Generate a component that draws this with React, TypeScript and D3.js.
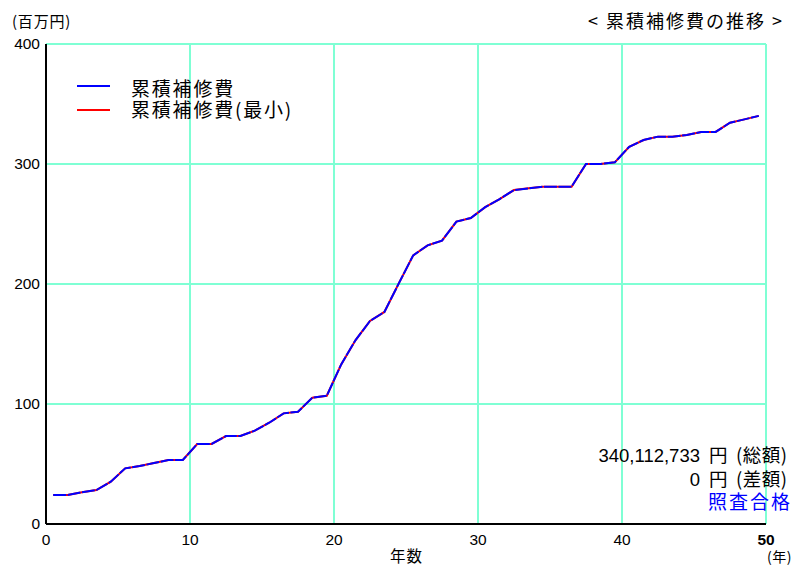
import React from "react";
import * as d3 from "d3";

const years: number[] = Array.from({ length: 50 }, (_, i) => i + 0.5);
const cumulativeRepair: number[] = [
  24.2, 24.2, 26.4, 28.3, 35.3, 46.4, 48.3, 50.8, 53.3, 53.3,
  66.7, 66.7, 73.3, 73.3, 77.8, 84.4, 92.2, 93.6, 105.3, 106.9,
  133, 153.3, 169.2, 176.7, 200.5, 223.9, 232.2, 236.1, 252, 255,
  264, 270.8, 278.3, 279.7, 281.1, 281.1, 281.1, 300, 300, 301.4,
  314.4, 320, 322.8, 322.8, 324.2, 326.7, 326.7, 334.4, 337.2, 340.1,
];
const cumulativeRepairMin: number[] = cumulativeRepair.slice();
const xTicks: number[] = [0, 10, 20, 30, 40, 50];
const yTicks: number[] = [0, 100, 200, 300, 400];
const legendLabels: string[] = ["累積補修費", "累積補修費(最小)"];
const totalAmount = "340,112,733";
const diffAmount = "0";
const summaryLabels: string[] = ["(総額)", "(差額)"];
const verdict = "照査合格";

const W = 795;
const H = 566;
const left = 46;
const right = 766;
const top = 44;
const bottom = 524;
const font = "'Noto Sans CJK JP', 'Liberation Sans', sans-serif";
const numFont = "'Liberation Sans', Arial, sans-serif";
const gridColor = "#7fffd4";

export default function App() {
  const x = d3.scaleLinear().domain([0, 50]).range([left, right]);
  const y = d3.scaleLinear().domain([0, 400]).range([bottom, top]);
  const line = d3
    .line<number>()
    .x((_, i) => x(years[i]))
    .y((d) => y(d));

  const summaryRow = (amount: string, label: string, baseline: number) => (
    <g>
      <text x={700} y={baseline} textAnchor="end" fontSize={18.5} fontFamily={numFont} fill="#000">
        {amount}
      </text>
      <text x={709} y={baseline} fontSize={18.5} fill="#000">円</text>
      <text x={736} y={baseline} fontSize={18.5} letterSpacing={0.5} fill="#000">{label}</text>
    </g>
  );

  return (
    <svg
      width={W}
      height={H}
      style={{ position: "absolute", left: 0, top: 0, background: "#fff" }}
      fontFamily={font}
    >
      {/* grid */}
      {xTicks.map((t) => (
        <line key={"gx" + t} x1={x(t)} x2={x(t)} y1={top} y2={bottom} stroke={gridColor} strokeWidth={2} />
      ))}
      {yTicks.map((t) => (
        <line key={"gy" + t} x1={left} x2={right} y1={y(t)} y2={y(t)} stroke={gridColor} strokeWidth={2} />
      ))}
      {/* axes */}
      <line x1={left} x2={left} y1={top} y2={bottom} stroke="#000" strokeWidth={2} />
      <line x1={left} x2={right} y1={bottom} y2={bottom} stroke="#000" strokeWidth={2} />

      {/* y tick labels */}
      {yTicks.map((t) => (
        <text key={"ty" + t} x={left - 6} y={y(t) + 5} textAnchor="end" fontSize={15.5} fontFamily={numFont} fill="#000">
          {t}
        </text>
      ))}
      {/* x tick labels */}
      {xTicks.map((t) => (
        <text
          key={"tx" + t}
          x={x(t)}
          y={bottom + 21}
          textAnchor="middle"
          fontSize={15.5}
          fontFamily={numFont}
          fontWeight={t === 50 ? "bold" : "normal"}
          fill="#000"
        >
          {t}
        </text>
      ))}
      <text x={12} y={27} fontSize={15} letterSpacing={0.8} fill="#000">(百万円)</text>
      <text x={390} y={562} fontSize={15.5} letterSpacing={1} fill="#000">年数</text>
      <text x={767} y={562} fontSize={14} letterSpacing={0.5} fill="#000">(年)</text>

      {/* title */}
      <text x={588} y={28} fontSize={18} letterSpacing={2} fill="#000">{"< 累積補修費の推移 >"}</text>

      {/* legend */}
      <line x1={77} x2={110} y1={86} y2={86} stroke="#0000ff" strokeWidth={2} />
      <text x={131} y={96} fontSize={19} letterSpacing={1.8} fill="#000">{legendLabels[0]}</text>
      <line x1={77} x2={110} y1={110} y2={110} stroke="#ff0000" strokeWidth={2} />
      <text x={131} y={117} fontSize={19} letterSpacing={1.8} fill="#000">{legendLabels[1]}</text>

      {/* series */}
      <path d={line(cumulativeRepairMin) || ""} fill="none" stroke="#ff0000" strokeWidth={2} />
      <path
        d={line(cumulativeRepair) || ""}
        fill="none"
        stroke="#0000ff"
        strokeWidth={2}
        strokeDasharray="13,1.5"
      />

      {/* summary */}
      {summaryRow(totalAmount, summaryLabels[0], 462)}
      {summaryRow(diffAmount, summaryLabels[1], 486)}
      <text x={708} y={509} fontSize={19} letterSpacing={2} fill="#0000ff">{verdict}</text>
    </svg>
  );
}
